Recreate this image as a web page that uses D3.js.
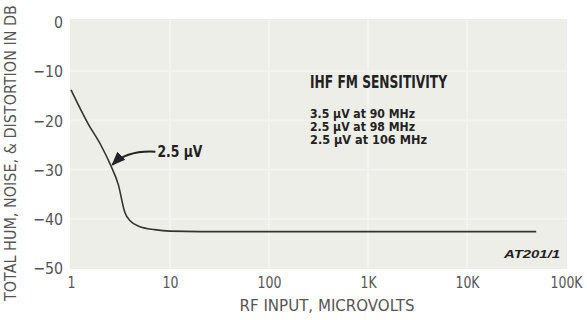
<!DOCTYPE html>
<html lang="en">
<head>
    <meta charset="UTF-8">
    <title>IHF FM Sensitivity</title>
    <script src="https://cdn.jsdelivr.net/npm/d3@7/dist/d3.min.js"></script>
    <style>
        body { margin: 0; background: #fff; }
    </style>
</head>
<body>
    <div id="chart"></div>
    <script>
        // data
        var rfInput = [1, 1.5, 2, 2.5, 3, 3.5, 4, 5, 7, 10, 20, 100, 1000, 10000, 50000];
        var thdn = [-13.8, -20.8, -25, -29, -33, -38.7, -40.5, -41.6, -42.2, -42.5, -42.6, -42.6, -42.6, -42.6, -42.6];
        var xTicks = [1, 10, 100, 1000, 10000, 100000];
        var xTickLabels = ["1", "10", "100", "1K", "10K", "100K"];
        var yTicks = [0, -10, -20, -30, -40, -50];
        var sensLines = ["3.5 \u00b5V at 90 MHz", "2.5 \u00b5V at 98 MHz", "2.5 \u00b5V at 106 MHz"];

        var width = 587, height = 320;
        var narrow = "'DejaVu Sans Condensed', 'Liberation Sans', sans-serif";

        var svg = d3.select("#chart").append("svg")
            .attr("width", width).attr("height", height);

        var x = d3.scaleLog().domain([1, 100000]).range([71, 566]);
        var y = d3.scaleLinear().domain([-50, 0]).range([268, 22]);

        // plot background
        svg.append("rect")
            .attr("x", 70).attr("y", 19)
            .attr("width", 497).attr("height", 250)
            .attr("fill", "#eeeee9");

        // faint grid left by the scan
        svg.append("g").selectAll("line").data(xTicks.slice(1, 5)).enter().append("line")
            .attr("x1", function(d){ return x(d); }).attr("x2", function(d){ return x(d); })
            .attr("y1", 19).attr("y2", 269)
            .attr("stroke", "#f3f3ef").attr("stroke-width", 2);
        svg.append("g").selectAll("line").data(yTicks.slice(1, 5)).enter().append("line")
            .attr("y1", function(d){ return y(d); }).attr("y2", function(d){ return y(d); })
            .attr("x1", 70).attr("x2", 567)
            .attr("stroke", "#f3f3ef").attr("stroke-width", 2);

        // axes (labels only, no lines)
        var yAxis = d3.axisLeft(y).tickValues(yTicks).tickSize(0).tickPadding(0)
            .tickFormat(function(d){ return d === 0 ? "0" : "\u2212" + Math.abs(d); });
        var gy = svg.append("g").attr("transform", "translate(63,0)").call(yAxis);
        gy.select(".domain").remove();
        gy.selectAll("text")
            .attr("font-family", narrow).attr("font-size", 16)
            .attr("fill", "#555").attr("dy", "0.36em")
            .attr("textLength", function(d){ return d === 0 ? 9 : 30; })
            .attr("lengthAdjust", "spacingAndGlyphs");

        var xAxis = d3.axisBottom(x).tickValues(xTicks).tickSize(0).tickPadding(0)
            .tickFormat(function(d, i){ return xTickLabels[i]; });
        var gx = svg.append("g").attr("transform", "translate(0,277)").call(xAxis);
        gx.select(".domain").remove();
        gx.selectAll("text")
            .attr("font-family", narrow).attr("font-size", 16)
            .attr("fill", "#555").attr("dy", "0.71em")
            .attr("textLength", function(d, i){ return xTickLabels[i].length * 8; })
            .attr("lengthAdjust", "spacingAndGlyphs");

        // axis titles
        svg.append("text")
            .attr("x", 327).attr("y", 311)
            .attr("text-anchor", "middle")
            .attr("font-family", narrow).attr("font-size", 16).attr("fill", "#555")
            .attr("textLength", 175).attr("lengthAdjust", "spacingAndGlyphs")
            .text("RF INPUT, MICROVOLTS");
        svg.append("text")
            .attr("transform", "translate(16,153) rotate(-90)")
            .attr("text-anchor", "middle")
            .attr("font-family", narrow).attr("font-size", 15).attr("fill", "#555")
            .attr("textLength", 296).attr("lengthAdjust", "spacingAndGlyphs")
            .text("TOTAL HUM, NOISE, & DISTORTION IN DB");

        // curve
        var line = d3.line()
            .x(function(d, i){ return x(rfInput[i]); })
            .y(function(d){ return y(d); })
            .curve(d3.curveMonotoneX);
        svg.append("path")
            .attr("d", line(thdn))
            .attr("fill", "none")
            .attr("stroke", "#333")
            .attr("stroke-width", 1.6);

        // 2.5 uV callout
        var tipX = x(2.5) + 2, tipY = y(-29);
        svg.append("defs").append("marker")
            .attr("id", "arrow").attr("viewBox", "0 0 10 10")
            .attr("refX", 9).attr("refY", 5)
            .attr("markerWidth", 7).attr("markerHeight", 7)
            .attr("orient", "auto")
            .append("path").attr("d", "M0,1 L10,5 L0,9 Z").attr("fill", "#222");
        svg.append("path")
            .attr("d", "M" + (tipX + 43) + "," + (tipY - 13) +
                " C" + (tipX + 25) + "," + (tipY - 14) + " " + (tipX + 10) + "," + (tipY - 10) + " " + tipX + "," + tipY)
            .attr("fill", "none").attr("stroke", "#222").attr("stroke-width", 2)
            .attr("marker-end", "url(#arrow)");
        svg.append("text")
            .attr("x", tipX + 45).attr("y", tipY - 8)
            .attr("font-family", narrow).attr("font-size", 15).attr("font-weight", "bold")
            .attr("fill", "#222")
            .attr("textLength", 45).attr("lengthAdjust", "spacingAndGlyphs")
            .text("2.5 \u00b5V");

        // sensitivity note
        svg.append("text")
            .attr("x", 310).attr("y", 88)
            .attr("font-family", narrow).attr("font-size", 17).attr("font-weight", "bold")
            .attr("fill", "#222")
            .attr("textLength", 137).attr("lengthAdjust", "spacingAndGlyphs")
            .text("IHF FM SENSITIVITY");
        svg.append("g").selectAll("text").data(sensLines).enter().append("text")
            .attr("x", 310)
            .attr("y", function(d, i){ return 118 + i * 13; })
            .attr("font-family", narrow).attr("font-size", 11.5).attr("font-weight", "bold")
            .attr("fill", "#222")
            .attr("textLength", function(d, i){ return i === 2 ? 117 : 105; })
            .attr("lengthAdjust", "spacingAndGlyphs")
            .text(function(d){ return d; });

        svg.append("text")
            .attr("x", 504).attr("y", 258)
            .attr("font-family", "'Liberation Sans', sans-serif").attr("font-size", 11)
            .attr("font-weight", "bold").attr("font-style", "italic")
            .attr("fill", "#222")
            .attr("textLength", 56).attr("lengthAdjust", "spacingAndGlyphs")
            .text("AT201/1");
    </script>
</body>
</html>
